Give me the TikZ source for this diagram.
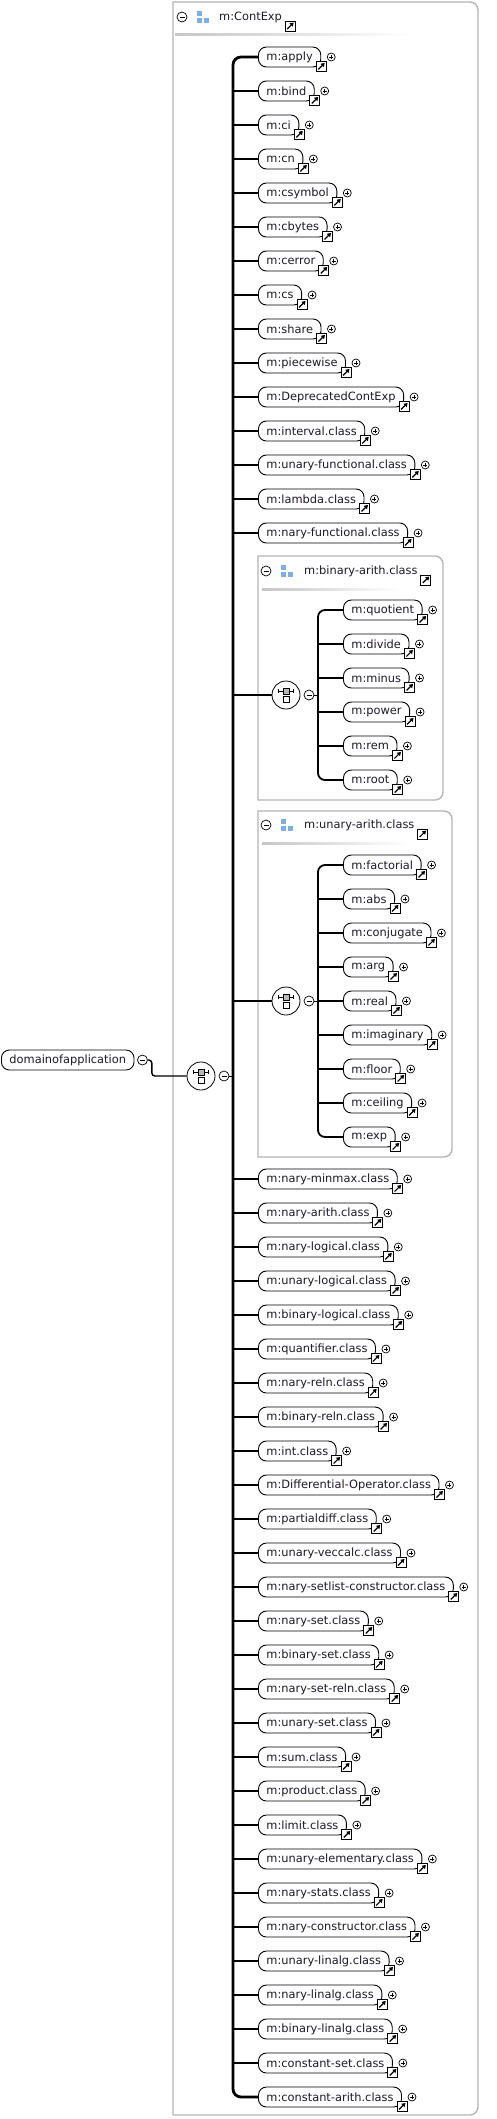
\documentclass[tikz,border=0pt]{standalone}
\usepackage{fontspec}
\setmainfont{DejaVu Sans}
\usetikzlibrary{positioning, arrows.meta, calc}
\definecolor{framegray}{HTML}{B4B4B4}
\definecolor{iconblue}{HTML}{7EAEE2}
\definecolor{txtdark}{HTML}{1E1A24}

\begin{document}
\begin{tikzpicture}[
    x=1pt, y=-1pt,
    elem/.style={
        draw, line width=0.9pt, rounded corners=8pt, fill=white,
        minimum height=20pt, inner xsep=8pt, inner ysep=0pt, anchor=west,
        font=\fontsize{11.4}{13}\selectfont, text=txtdark
    },
    hdr/.style={
        anchor=west, inner sep=0pt, font=\fontsize{11.4}{13}\selectfont, text=txtdark
    },
    refbox/.style={
        draw, fill=white, line width=0.8pt, minimum size=10pt, inner sep=0pt,
        path picture={\draw[line width=1.2pt, -{Triangle[length=3.6pt, width=4.4pt]}]
            ([shift={(2pt,2pt)}]path picture bounding box.south west) --
            ([shift={(-1.5pt,-1.5pt)}]path picture bounding box.north east);}
    },
    plusc/.style={
        circle, draw, fill=white, line width=0.7pt, minimum size=8pt, inner sep=0pt,
        path picture={\draw[line width=0.7pt]
            ([xshift=-2pt]path picture bounding box.center) -- ([xshift=2pt]path picture bounding box.center)
            ([yshift=-2pt]path picture bounding box.center) -- ([yshift=2pt]path picture bounding box.center);}
    },
    minc/.style={
        circle, draw, fill=white, line width=0.7pt, minimum size=10pt, inner sep=0pt,
        path picture={\draw[line width=0.8pt]
            ([xshift=-2.5pt]path picture bounding box.center) -- ([xshift=2.5pt]path picture bounding box.center);}
    },
    icon/.style={
        minimum size=13pt, inner sep=0pt,
        path picture={
            \fill[iconblue] ([shift={(-6pt,1pt)}]path picture bounding box.center) rectangle ++(5pt,5pt);
            \fill[iconblue] ([shift={(-6pt,-6pt)}]path picture bounding box.center) rectangle ++(5pt,5pt);
            \fill[iconblue] ([shift={(1pt,-6pt)}]path picture bounding box.center) rectangle ++(5pt,5pt);}
    },
    seqc/.style={
        circle, draw, fill=white, line width=0.8pt, minimum size=28pt, inner sep=0pt,
        path picture={
            \draw[line width=0.8pt] ([shift={(-7.5pt,4pt)}]path picture bounding box.center) -- ++(15pt,0pt);
            \draw[line width=0.8pt] ([shift={(-7.5pt,2.3pt)}]path picture bounding box.center) -- ++(0pt,3.4pt);
            \draw[line width=0.8pt] ([shift={(7.5pt,2.3pt)}]path picture bounding box.center) -- ++(0pt,3.4pt);
            \draw[fill=gray!55, line width=0.6pt] ([shift={(-3pt,1pt)}]path picture bounding box.center) rectangle ++(6pt,6pt);
            \draw[fill=white, line width=0.6pt] ([shift={(-3pt,-7pt)}]path picture bounding box.center) rectangle ++(6pt,6pt);}
    },
    frame/.style={draw=framegray, line width=1.4pt},
    stub/.style={line width=1.6pt},
    mainbus/.style={line width=2.8pt, rounded corners=8pt},
    innerbus/.style={line width=1.8pt, rounded corners=7pt}
]
\useasboundingbox (0,0) rectangle (497,2119);

% Group frames (rounded on the right only)
\draw[frame] (173,2115) -- (173,2) -- (470,2) arc (90:0:8pt) -- (478,2107) arc (0:-90:8pt) -- cycle;
\draw[frame] (258,800) -- (258,556) -- (435,556) arc (90:0:8pt) -- (443,792) arc (0:-90:8pt) -- cycle;
\draw[frame] (258,1157) -- (258,811) -- (444,811) arc (90:0:8pt) -- (452,1149) arc (0:-90:8pt) -- cycle;

% Bus columns
\coordinate (mbus) at (233,0);
\coordinate (bbus) at (318,0);
\coordinate (ubus) at (318,0);

% -- m:ContExp header --
\node[minc] (chm) at (182,17) {};
\node[icon] (chi) at (203,17) {};
\node[hdr] (cht) at (219,17) {m:ContExp};
\node[refbox] (chr) at ([shift={(8pt,-9pt)}]cht.east) {};
\shade[left color=gray!45, right color=white] (175,34) rectangle (410,36);

% Upper members (first one hangs on the bus corner)
\foreach [count=\i] \t in {apply, bind, ci, cn, csymbol, cbytes, cerror, cs, share,
        piecewise, DeprecatedContExp, interval.class, unary-functional.class,
        lambda.class, nary-functional.class} {
    \node[elem] (ce\i) at (258, {57+34*(\i-1)}) {m:\t};
    \node[refbox] (cr\i) at ([yshift=1pt]ce\i.south east) {};
    \node[plusc] (cp\i) at ([xshift=10pt]ce\i.east) {};
    \ifnum\i>1 \draw[stub] (ce\i.west) -- (ce\i.west -| mbus); \fi
}

% Lower members (last one hangs on the bus corner)
\foreach [count=\i from 34] \t in {nary-minmax.class, nary-arith.class, nary-logical.class,
        unary-logical.class, binary-logical.class, quantifier.class, nary-reln.class,
        binary-reln.class, int.class, Differential-Operator.class, partialdiff.class,
        unary-veccalc.class, nary-setlist-constructor.class, nary-set.class,
        binary-set.class, nary-set-reln.class, unary-set.class, sum.class,
        product.class, limit.class, unary-elementary.class, nary-stats.class,
        nary-constructor.class, unary-linalg.class, nary-linalg.class,
        binary-linalg.class, constant-set.class, constant-arith.class} {
    \node[elem] (ce\i) at (258, {57+34*(\i-1)}) {m:\t};
    \node[refbox] (cr\i) at ([yshift=1pt]ce\i.south east) {};
    \node[plusc] (cp\i) at ([xshift=10pt]ce\i.east) {};
    \ifnum\i<61 \draw[stub] (ce\i.west) -- (ce\i.west -| mbus); \fi
}

% -- m:binary-arith.class --
\node[minc] (bhm) at (266,571) {};
\node[icon] (bhi) at (287,571) {};
\node[hdr] (bht) at (304,571) {m:binary-arith.class};
\node[refbox] (bhr) at ([shift={(8pt,-9pt)}]bht.east) {};
\shade[left color=gray!45, right color=white] (262,588) rectangle (400,590);

\foreach [count=\i] \t in {quotient, divide, minus, power, rem, root} {
    \node[elem] (ba\i) at (343, {610+34*(\i-1)}) {m:\t};
    \node[refbox] (br\i) at ([yshift=1pt]ba\i.south east) {};
    \node[plusc] (bp\i) at ([xshift=10pt]ba\i.east) {};
    \ifnum\i>1 \ifnum\i<6 \draw[stub] (ba\i.west) -- (ba\i.west -| bbus); \fi\fi
}
\node[seqc] (bseq) at (286,695) {};
\node[minc] (bmin) at (309,695) {};
\draw[stub] (bseq.west -| mbus) -- (bseq.west);
\draw[line width=1pt] (bmin.east) -- (bmin.east -| bbus);
\draw[innerbus] (ba1.west) -| (bbus |- bseq) |- (ba6.west);

% -- m:unary-arith.class --
\node[minc] (uhm) at (266,825) {};
\node[icon] (uhi) at (287,825) {};
\node[hdr] (uht) at (304,825) {m:unary-arith.class};
\node[refbox] (uhr) at ([shift={(8pt,-9pt)}]uht.east) {};
\shade[left color=gray!45, right color=white] (262,842) rectangle (408,844);

\foreach [count=\i] \t in {factorial, abs, conjugate, arg, real, imaginary, floor, ceiling, exp} {
    \node[elem] (ua\i) at (343, {865+34*(\i-1)}) {m:\t};
    \node[refbox] (ur\i) at ([yshift=1pt]ua\i.south east) {};
    \node[plusc] (up\i) at ([xshift=10pt]ua\i.east) {};
    \ifnum\i>1 \ifnum\i<9 \draw[stub] (ua\i.west) -- (ua\i.west -| ubus); \fi\fi
}
\node[seqc] (useq) at (286,1001) {};
\node[minc] (umin) at (309,1001) {};
\draw[stub] (useq.west -| mbus) -- (useq.west);
\draw[line width=1pt] (umin.east) -- (umin.east -| ubus);
\draw[innerbus] (ua1.west) -| (ubus |- useq) |- (ua9.west);

% -- main sequence and root element --
\node[seqc] (mseq) at (201,1076) {};
\node[minc] (mmin) at (224,1076) {};
\draw[line width=1pt] (mmin.east) -- (mmin.east -| mbus);
\draw[mainbus] (ce1.west) -| (mbus |- mseq) |- (ce61.west);

\node[elem] (doa) at (1,1060) {domainofapplication};
\node[minc] (dmin) at ([xshift=8pt]doa.east) {};
\coordinate (dbend) at ([xshift=4pt]dmin.east);
\draw[line width=1.4pt, rounded corners=3pt] (dmin.east) -- (dbend) |- (mseq.west);

\end{tikzpicture}
\end{document}
